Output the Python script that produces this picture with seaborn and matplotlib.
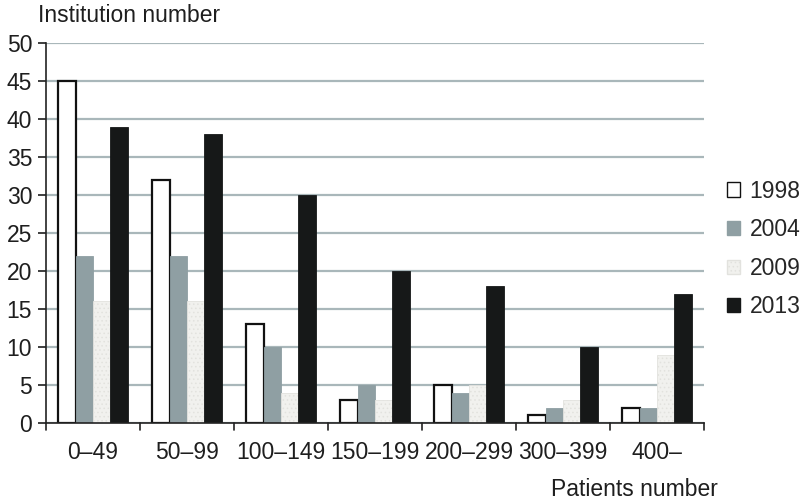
import matplotlib
matplotlib.use("Agg")
import matplotlib.pyplot as plt
import seaborn as sns
import pandas as pd
from matplotlib.patches import Patch

categories = ["0–49", "50–99", "100–149", "150–199", "200–299", "300–399", "400–"]
years = ["1998", "2004", "2009", "2013"]
v1998 = [45, 32, 13, 3, 5, 1, 2]
v2004 = [22, 22, 10, 5, 4, 2, 2]
v2009 = [16, 16, 4, 3, 5, 3, 9]
v2013 = [39, 38, 30, 20, 18, 10, 17]

rows = []
for y, vals in zip(years, [v1998, v2004, v2009, v2013]):
    for c, v in zip(categories, vals):
        rows.append({"cat": c, "year": y, "val": v})
df = pd.DataFrame(rows)

sns.set_style("white")
plt.rcParams["font.family"] = ["Liberation Sans", "DejaVu Sans"]
plt.rcParams["hatch.linewidth"] = 0.6

FS = 16.5
TXT = "#1e1e1e"
face = {"1998": "#ffffff", "2004": "#8f9fa3", "2009": "#f1f1ee", "2013": "#161818"}
edge = {"1998": "#111111", "2004": "#8f9fa3", "2009": "#e2e2de", "2013": "#161818"}

fig = plt.figure(figsize=(8.05, 5.01), dpi=100)
ax = fig.add_axes([46/805, 1-423/501, 658/805, 380/501])

sns.barplot(data=df, x="cat", y="val", hue="year", order=categories, hue_order=years,
            palette=face, width=0.74, ax=ax, legend=False, saturation=1)

n = len(categories)
for i, p in enumerate(ax.patches[:4*n]):
    y = years[i // n]
    p.set_facecolor(face[y])
    p.set_edgecolor(edge[y])
    p.set_linewidth(1.6 if y == "1998" else 0.6)
    if y == "2009":
        p.set_hatch("....")

ax.set_ylim(0, 50)
ax.set_xlim(-0.5, n - 0.5)
ax.set_yticks(range(0, 51, 5))
ax.yaxis.grid(True, color="#a9b7ba", linewidth=1.6)
ax.set_axisbelow(True)
ax.set_xticks(range(n))
ax.set_xticklabels(categories, fontsize=FS, color=TXT)
ax.tick_params(axis="y", labelsize=FS, colors=TXT, length=6, width=1.2, left=True, pad=4)
ax.tick_params(axis="x", length=0, pad=13)
for xb in [i + 0.5 for i in range(n)]:
    ax.plot([xb, xb], [0, -0.018], transform=ax.get_xaxis_transform(), color="#222222",
            lw=1.2, clip_on=False)
ax.plot([-0.5, -0.5], [0, -0.018], transform=ax.get_xaxis_transform(), color="#222222",
        lw=1.2, clip_on=False)
ax.set_xlabel("")
ax.set_ylabel("")
for s in ["top", "right"]:
    ax.spines[s].set_visible(False)
ax.spines["left"].set_color("#222222")
ax.spines["left"].set_linewidth(1.2)
ax.spines["bottom"].set_color("#222222")
ax.spines["bottom"].set_linewidth(1.2)

fig.text(38/805, 1-15/501, "Institution number", fontsize=FS, color=TXT, va="center", ha="left")
fig.text(718/805, 1-489/501, "Patients number", fontsize=FS, color=TXT, va="center", ha="right")

handles = []
for y in years:
    h = Patch(facecolor=face[y], edgecolor=("#111111" if y == "1998" else edge[y]),
              hatch=("...." if y == "2009" else None), linewidth=1.0)
    handles.append(h)
fig.legend(handles, years, loc="center left", bbox_to_anchor=(727/805, 1-249/501),
           frameon=False, fontsize=FS, handlelength=0.57, handleheight=0.57,
           handletextpad=0.42, labelspacing=0.68, borderpad=0, borderaxespad=0)

fig.savefig("out.png", dpi=100)
